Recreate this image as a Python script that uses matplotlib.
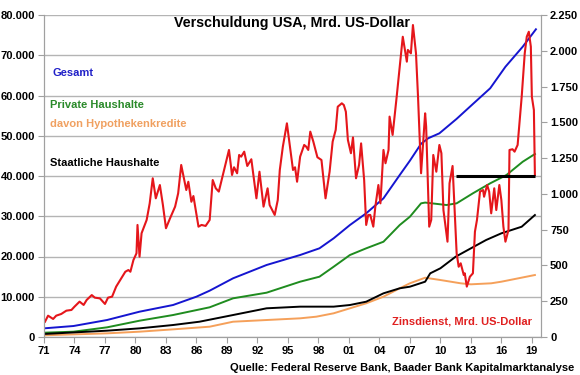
import numpy as np
import matplotlib
matplotlib.use('Agg')
import matplotlib.pyplot as plt
from matplotlib.ticker import FuncFormatter

plt.rcParams['font.family'] = ['Liberation Sans', 'DejaVu Sans']
plt.rcParams['font.weight'] = 'bold'

# Zinsdienst, Mrd. US-Dollar (rechte Achse)
red_years = [1971.1, 1971.4, 1971.9, 1972.2, 1972.7, 1973.2, 1973.7, 1974.0, 1974.5, 1974.9,
             1975.2, 1975.7, 1976.0, 1976.5, 1977.0, 1977.3, 1977.7, 1978.1, 1978.6, 1979.0,
             1979.3, 1979.5, 1979.8, 1980.1, 1980.2, 1980.4, 1980.6, 1981.1, 1981.4, 1981.7,
             1982.0, 1982.4, 1982.7, 1983.0, 1983.4, 1983.9, 1984.2, 1984.5, 1985.0, 1985.2,
             1985.5, 1985.7, 1986.2, 1986.5, 1986.9, 1987.3, 1987.6, 1987.9, 1988.2, 1988.6,
             1989.2, 1989.5, 1989.7, 1990.0, 1990.2, 1990.4, 1990.7, 1991.0, 1991.4, 1991.9,
             1992.2, 1992.6, 1993.0, 1993.2, 1993.7, 1994.0, 1994.2, 1994.5, 1994.9, 1995.5,
             1995.7, 1995.9, 1996.2, 1996.6, 1996.8, 1997.0, 1997.2, 1997.5, 1997.9, 1998.3,
             1998.7, 1999.1, 1999.4, 1999.7, 1999.9, 2000.3, 2000.5, 2000.7, 2000.9, 2001.2,
             2001.4, 2001.7, 2002.0, 2002.2, 2002.5, 2002.7, 2002.9, 2003.1, 2003.4, 2003.6,
             2003.9, 2004.1, 2004.4, 2004.6, 2004.9, 2005.0, 2005.3, 2005.7, 2006.0, 2006.3,
             2006.7, 2006.8, 2007.1, 2007.3, 2007.6, 2007.8, 2008.1, 2008.5, 2008.6, 2008.9,
             2009.1, 2009.3, 2009.6, 2009.9, 2010.1, 2010.3, 2010.7, 2010.9, 2011.2, 2011.6,
             2011.8, 2012.0, 2012.3, 2012.4, 2012.6, 2012.9, 2013.2, 2013.4, 2013.6, 2013.9,
             2014.2, 2014.3, 2014.6, 2014.8, 2015.0, 2015.3, 2015.5, 2015.8, 2016.0, 2016.2,
             2016.4, 2016.7, 2016.8, 2017.1, 2017.3, 2017.6, 2018.0, 2018.3, 2018.5, 2018.7,
             2018.9, 2019.0, 2019.2, 2019.3]
red_vals = [107, 149, 126, 149, 161, 184, 189, 212, 247, 224,
            259, 293, 275, 270, 231, 275, 282, 352, 410, 456,
            468, 456, 538, 585, 783, 561, 725, 818, 934, 1109,
            969, 1062, 922, 760, 829, 911, 1004, 1202, 1027, 1085,
            945, 985, 771, 783, 776, 818, 1097, 1039, 1016, 1132,
            1307, 1132, 1186, 1144, 1272, 1260, 1295, 1195, 1242, 969,
            1155, 911, 1039, 922, 853, 957, 1167, 1330, 1493, 1167,
            1186, 1085, 1260, 1342, 1330, 1307, 1435, 1365, 1256, 1237,
            969, 1155, 1365, 1447, 1609, 1633, 1621, 1574, 1377, 1284,
            1395, 1109, 1202, 1353, 1097, 783, 853, 853, 771, 911,
            1062, 934, 1307, 1214, 1307, 1540, 1412, 1679, 1889, 2098,
            1924, 2006, 1982, 2180, 1982, 1679, 1144, 1563, 1470, 771,
            818, 1272, 1155, 1342, 1284, 887, 666, 1074, 1195, 585,
            491, 515, 433, 445, 352, 421, 445, 736, 818, 1016,
            1027, 980, 1062, 1016, 864, 1039, 887, 1062, 957, 771,
            666, 748, 1307, 1312, 1295, 1342, 1679, 1982, 2098, 2133,
            2029, 1679, 1586, 1132]

# Verschuldung, Mrd. US-Dollar (linke Achse)
blue_years = [1971.0, 1973.9, 1977.2, 1980.4, 1983.7, 1986.0, 1987.3, 1989.6, 1992.9, 1996.2,
              1998.1, 1999.5, 2001.1, 2002.7, 2004.4, 2006.0, 2007.0, 2008.1, 2008.8, 2009.9,
              2011.6, 2012.9, 2014.9, 2016.4, 2018.1, 2019.4]
blue_vals = [2150, 2730, 4220, 6290, 7950, 10020, 11510, 14580, 17890, 20370,
             22030, 24520, 27820, 30730, 34450, 40240, 43800, 48000, 49370, 50600,
             54200, 57200, 61790, 67140, 72120, 76450]

green_years = [1971.0, 1973.9, 1977.2, 1980.4, 1983.7, 1987.3, 1989.6, 1992.9, 1996.2, 1998.1,
               1999.5, 2001.1, 2002.7, 2004.4, 2006.0, 2007.0, 2008.1, 2008.5, 2010.6, 2011.6,
               2013.2, 2014.9, 2016.5, 2018.1, 2019.3]
green_vals = [1070, 1320, 2400, 4050, 5460, 7380, 9610, 11010, 13740, 14980,
              17460, 20370, 22030, 23670, 27820, 29880, 33210, 33400, 32790, 33210,
              35700, 38180, 40240, 43540, 45460]

orange_years = [1971.0, 1977.2, 1980.4, 1983.7, 1987.3, 1989.6, 1992.9, 1996.2, 1997.8, 1999.5,
                2001.1, 2002.7, 2004.4, 2006.0, 2007.0, 2008.5, 2010.0, 2012.0, 2013.0, 2015.0,
                2016.0, 2019.3]
orange_vals = [420, 910, 1320, 1900, 2560, 3800, 4220, 4640, 5050, 5890,
               7130, 8370, 10020, 12100, 13340, 14730, 14160, 13340, 13090, 13340,
               13740, 15400]

black_years = [1971.0, 1977.2, 1980.4, 1983.7, 1986.3, 1989.6, 1992.9, 1996.2, 1999.5, 2001.1,
               2002.7, 2004.4, 2006.0, 2007.0, 2008.5, 2009.0, 2010.0, 2011.5, 2013.0, 2014.5,
               2016.0, 2017.0, 2018.0, 2019.3]
black_vals = [750, 1570, 2150, 2980, 3800, 5460, 7130, 7540, 7540, 7950,
              8770, 10850, 12100, 12500, 13740, 15820, 17070, 19950, 22030, 24100,
              25760, 26580, 27400, 30300]

# schwarze Markierung (rechte Achse)
mark_level = 1125
mark_start, mark_end = 2011.5, 2019.35

xtick_years = list(range(1971, 2020, 3))
xtick_labels = ['%02d' % (y % 100) for y in xtick_years]

fig = plt.figure(figsize=(5.8, 3.75), dpi=100)
ax = fig.add_axes([44 / 580, 1 - 337 / 375, (541 - 44) / 580, (337 - 15) / 375])
ax2 = ax.twinx()

ax.plot(blue_years, blue_vals, color='#1515d0', lw=1.4)
ax.plot(green_years, green_vals, color='#1f8c1f', lw=1.4)
ax.plot(orange_years, orange_vals, color='#f5a05a', lw=1.4)
ax.plot(black_years, black_vals, color='black', lw=1.4)

ax2.plot(red_years, red_vals, color='#e5161b', lw=1.5)
ax2.hlines(mark_level, mark_start, mark_end, color='black', lw=2.2)

ax.set_xlim(1971, 2019.9)
ax.set_ylim(0, 80000)
ax2.set_ylim(0, 2250)
ax.set_yticks(np.arange(0, 80001, 10000))
ax2.set_yticks(np.arange(0, 2251, 250))
ax.set_xticks(xtick_years)
ax.set_xticklabels(xtick_labels)

de = FuncFormatter(lambda v, p: format(int(v), ',').replace(',', '.'))
ax.yaxis.set_major_formatter(de)
ax2.yaxis.set_major_formatter(de)

ax.grid(axis='y', color='#b4b4b4', lw=1)
ax.set_axisbelow(True)
for a in (ax, ax2):
    a.spines['top'].set_visible(False)
    for s in ('left', 'right', 'bottom'):
        a.spines[s].set_color('#a0a0a0')
    a.tick_params(colors='#a0a0a0', labelcolor='black', labelsize=8, length=4, pad=2.5)

ax.text(0.5, 0.975, 'Verschuldung USA, Mrd. US-Dollar', transform=ax.transAxes,
        ha='center', va='center', fontsize=10.3, fontweight='bold')
ax.text(0.018, 0.82, 'Gesamt', transform=ax.transAxes, color='#2020c8', fontsize=8, va='center')
ax.text(0.012, 0.72, 'Private Haushalte', transform=ax.transAxes, color='#2a8a2a', fontsize=8, va='center')
ax.text(0.012, 0.661, 'davon Hypothekenkredite', transform=ax.transAxes, color='#f0a060', fontsize=8, va='center')
ax.text(0.012, 0.54, 'Staatliche Haushalte', transform=ax.transAxes, color='black', fontsize=8, va='center')
ax.text(0.982, 0.047, 'Zinsdienst, Mrd. US-Dollar', transform=ax.transAxes, color='#e02020',
        fontsize=8, ha='right', va='center')
fig.text(0.99, 0.005, 'Quelle: Federal Reserve Bank, Baader Bank Kapitalmarktanalyse',
         ha='right', va='bottom', fontsize=8, fontweight='bold')

fig.savefig('out.png', dpi=100)
